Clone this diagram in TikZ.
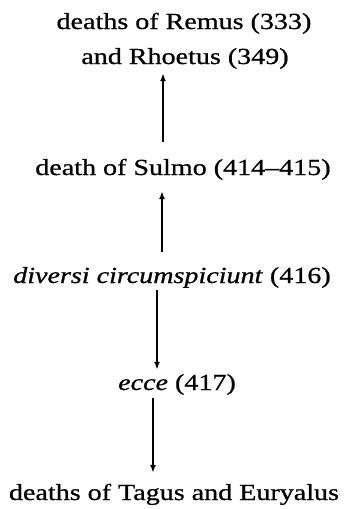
\documentclass[tikz,border=0pt]{standalone}
\usepackage{fontspec}
\setmainfont[FakeStretch=1.22,FakeBold=0.8]{Liberation Serif}
\usetikzlibrary{arrows.meta}
\begin{document}
\begin{tikzpicture}[x=1pt,y=-1pt,
  lbl/.style={anchor=base,inner sep=0pt,text height=16pt,text depth=5pt,
              font=\fontsize{23}{27}\selectfont},
  arr/.style={line width=1.6pt,-{Latex[length=8pt,width=6pt]}}]
\useasboundingbox (0,0) rectangle (344,509);
\node[lbl] (r1) at (184,29) {deaths of Remus (333)};
\node[lbl] (r2) at (185,64) {and Rhoetus (349)};
\node[lbl] (s) at (183,175) {death of Sulmo (414--415)};
\node[lbl] (d) at (172,283) {\textit{diversi circumspiciunt} (416)};
\node[lbl] (e) at (177,390) {\textit{ecce} (417)};
\node[lbl] (t) at (174,500) {deaths of Tagus and Euryalus};
\coordinate (xa) at (163,0);
\coordinate (xb) at (162,0);
\coordinate (xc) at (157,0);
\coordinate (xd) at (153,0);
\draw[arr,shorten <=17pt,shorten >=4pt] (s.north -| xa) -- (r2.south -| xa);
\draw[arr,shorten <=15pt,shorten >=11pt] (d.north -| xb) -- (s.south -| xb);
\draw[arr,shorten <=2pt,shorten >=4pt] (d.south -| xc) -- (e.north -| xc);
\draw[arr,shorten <=3pt,shorten >=11pt] (e.south -| xd) -- (t.north -| xd);
\end{tikzpicture}
\end{document}
